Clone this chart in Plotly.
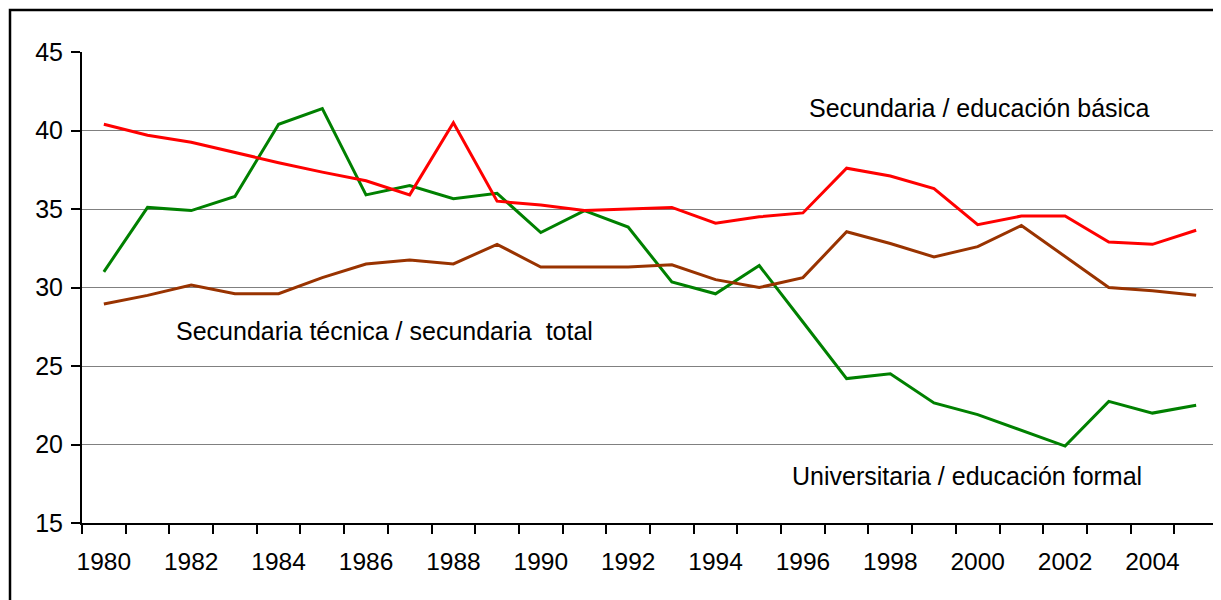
import plotly.graph_objects as go

years = list(range(1980, 2006))

universitaria = [31.0, 35.1, 34.9, 35.8, 40.4, 41.4, 35.9, 36.5, 35.65, 36.0,
                 33.5, 34.9, 33.85, 30.35, 29.6, 31.4, 27.8, 24.2, 24.5, 22.65,
                 21.9, 20.9, 19.9, 22.75, 22.0, 22.5]
basica = [40.4, 39.7, 39.25, 38.6, 37.95, 37.35, 36.8, 35.9, 40.5, 35.5,
          35.25, 34.9, 35.0, 35.1, 34.1, 34.5, 34.75, 37.6, 37.1, 36.3,
          34.0, 34.55, 34.55, 32.9, 32.75, 33.65]
tecnica = [28.95, 29.5, 30.15, 29.6, 29.6, 30.63, 31.5, 31.75, 31.5, 32.75,
           31.3, 31.3, 31.3, 31.45, 30.5, 30.0, 30.63, 33.55, 32.8, 31.95,
           32.6, 33.95, 32.0, 30.0, 29.8, 29.5]

label_years = list(range(1980, 2005, 2))
label_text = [str(y) for y in label_years]
y_ticks = [15, 20, 25, 30, 35, 40, 45]

FONT = "Liberation Sans, Arial, sans-serif"
FS = 25

fig = go.Figure()
fig.add_trace(go.Scatter(x=years, y=universitaria, mode="lines",
                         line=dict(color="#008000", width=3), name="Universitaria"))
fig.add_trace(go.Scatter(x=years, y=basica, mode="lines",
                         line=dict(color="#FF0000", width=3), name="Básica"))
fig.add_trace(go.Scatter(x=years, y=tecnica, mode="lines",
                         line=dict(color="#993300", width=3), name="Técnica"))

fig.update_layout(
    width=1213, height=592,
    margin=dict(l=74, r=3, t=44, b=77),
    paper_bgcolor="white", plot_bgcolor="white",
    showlegend=False,
    font=dict(family=FONT, size=FS, color="black"),
    xaxis=dict(
        range=[1979.5, 2005.5],
        tickmode="array", tickvals=label_years, ticktext=label_text,
        ticks="", showgrid=False, zeroline=False,
        showline=True, linecolor="black", linewidth=2,
        tickfont=dict(family=FONT, size=24.5, color="black"),
        minor=dict(tickmode="array",
                   tickvals=[y - 0.5 for y in years] + [2005.5],
                   ticks="outside", ticklen=9, tickwidth=2, tickcolor="black",
                   showgrid=False),
        ticklabelstandoff=16,
    ),
    yaxis=dict(
        range=[15, 45],
        tickmode="array", tickvals=y_ticks,
        ticks="outside", ticklen=9, tickwidth=2, tickcolor="black",
        showgrid=True, gridcolor="#808080", gridwidth=1.3,
        zeroline=False,
        showline=True, linecolor="black", linewidth=2,
        tickfont=dict(family=FONT, size=FS, color="black"),
        ticklabelstandoff=3,
    ),
)

# right border of plot area (gray)
fig.add_shape(type="line", xref="x domain", yref="y domain",
              x0=1, x1=1, y0=0, y1=1, line=dict(color="#808080", width=2))
# outer chart frame (cropped in the reference)
fig.add_shape(type="rect", xref="paper", yref="paper",
              x0=-72 / 1136, x1=1.2, y0=-0.3, y1=1 + 42 / 471,
              line=dict(color="black", width=2.5), layer="above")

ann = dict(showarrow=False, xanchor="left", yanchor="middle",
           font=dict(family=FONT, size=FS, color="black"))
fig.add_annotation(x=1996.09, y=41.43, text="Secundaria / educación básica", xref="x", yref="y", **ann)
fig.add_annotation(x=1981.6, y=27.24, text="Secundaria técnica / secundaria  total", xref="x", yref="y", **ann)
fig.add_annotation(x=1995.7, y=17.99, text="Universitaria / educación formal", xref="x", yref="y", **ann)

fig.write_html("out.html")
